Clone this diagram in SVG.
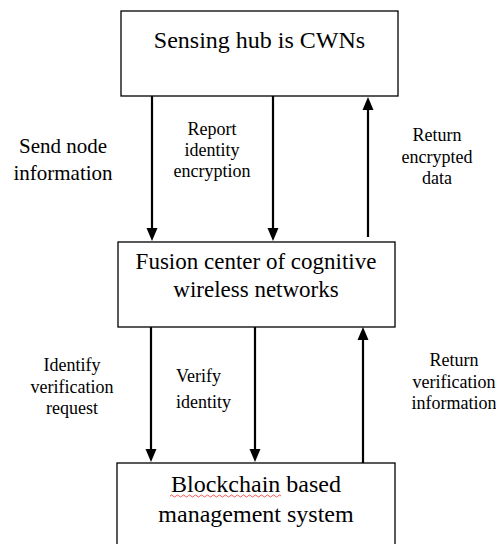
<svg xmlns="http://www.w3.org/2000/svg" width="496" height="544" viewBox="0 0 496 544" font-family="'Liberation Serif', 'DejaVu Serif', 'Times New Roman', serif">
<style>
.box{fill:#fff;stroke:#000;stroke-width:1.3}
text{font-family:'Liberation Serif','DejaVu Serif','Times New Roman',serif;fill:#000;text-anchor:middle}
.big{font-size:23px}
.big2{font-size:24px}
.mid{font-size:21px}
.sm{font-size:18px}
.arr{stroke:#000;stroke-width:2.2;fill:none;marker-end:url(#ah)}
</style>
<defs>
<marker id="ah" markerUnits="userSpaceOnUse" markerWidth="14" markerHeight="14" refX="0" refY="6" orient="auto" viewBox="0 0 14 12">
<path d="M0,0.5 L13,6 L0,11.5 z" fill="#000"/>
</marker>
</defs>
<rect width="496" height="544" fill="#fff"/>
<g id="connectors">
<line class="arr" x1="152" y1="96" x2="152" y2="228"/>
<line class="arr" x1="273" y1="96" x2="273" y2="228"/>
<line class="arr" x1="368" y1="237" x2="368" y2="110"/>
<line class="arr" x1="151" y1="327" x2="151" y2="449"/>
<line class="arr" x1="255" y1="327" x2="255" y2="449"/>
<line class="arr" x1="363" y1="463" x2="363" y2="340"/>
</g>
<g id="sensing-hub">
<rect class="box" x="121" y="11" width="277" height="85"/>
<text class="big2" x="259.5" y="48">Sensing hub is CWNs</text>
</g>
<g id="fusion-center">
<rect class="box" x="118" y="242" width="277" height="85"/>
<text class="big" x="256" y="269">Fusion center of cognitive</text>
<text class="big" x="256" y="297">wireless networks</text>
</g>
<g id="blockchain">
<rect class="box" x="117" y="463" width="278" height="100"/>
<text class="big2" x="256" y="492">Blockchain based</text>
<text class="big2" x="256" y="522">management system</text>
<path d="M170,496 q1.5,-2 3,0 t3,0 t3,0 t3,0 t3,0 t3,0 t3,0 t3,0 t3,0 t3,0 t3,0 t3,0 t3,0 t3,0 t3,0 t3,0 t3,0 t3,0 t3,0 t3,0 t3,0 t3,0 t3,0 t3,0 t3,0 t3,0 t3,0 t3,0 t3,0 t3,0 t3,0 t3,0 t3,0 t3,0 t3,0 t3,0 t3,0" fill="none" stroke="#f03030" stroke-width="0.8"/>
</g>
<g id="labels">
<text class="mid" x="63" y="153">Send node</text>
<text class="mid" x="63" y="180">information</text>
<text class="sm" x="212" y="135">Report</text>
<text class="sm" x="212" y="156">identity</text>
<text class="sm" x="212" y="177">encryption</text>
<text class="sm" x="437" y="141">Return</text>
<text class="sm" x="437" y="163">encrypted</text>
<text class="sm" x="437" y="184">data</text>
<text class="sm" x="72" y="371">Identify</text>
<text class="sm" x="72" y="393">verification</text>
<text class="sm" x="72" y="414">request</text>
<text class="sm" x="176" y="382" style="text-anchor:start">Verify</text>
<text class="sm" x="176" y="408" style="text-anchor:start">identity</text>
<text class="sm" x="454" y="366">Return</text>
<text class="sm" x="454" y="388">verification</text>
<text class="sm" x="454" y="409">information</text>
</g>
</svg>
